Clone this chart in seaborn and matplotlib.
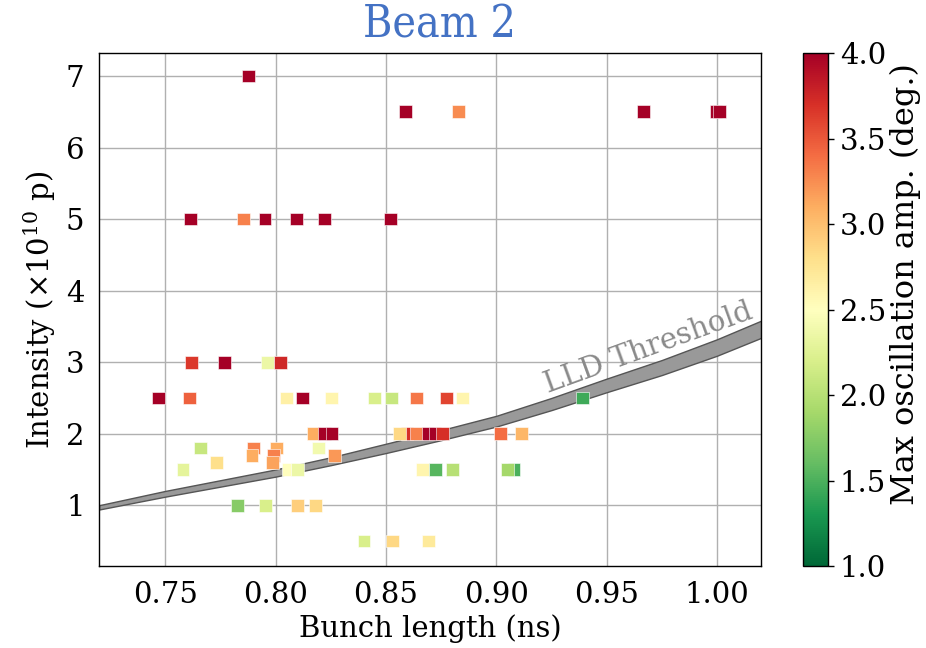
import numpy as np
import pandas as pd
import seaborn as sns
import matplotlib
matplotlib.use("Agg")
import matplotlib.pyplot as plt
from matplotlib.colors import Normalize
from matplotlib.cm import ScalarMappable

# ---- data ----
bunch_length = [0.7876, 0.859, 0.8829, 0.9665, 0.9995, 1.0012,
                0.7614, 0.7854, 0.7952, 0.8096, 0.8223, 0.8522,
                0.7617, 0.7767, 0.7964, 0.8021,
                0.747, 0.7611, 0.8051, 0.8123, 0.8253, 0.8447, 0.8524, 0.8637, 0.8775, 0.8847, 0.939,
                0.8173, 0.8222, 0.8255, 0.8595, 0.856, 0.8637, 0.869, 0.8722, 0.8757, 0.902, 0.9115,
                0.766, 0.790, 0.8004, 0.8196,
                0.7893, 0.7992, 0.8268,
                0.7732, 0.7986,
                0.758, 0.806, 0.810, 0.8664, 0.8724, 0.8802, 0.908, 0.905,
                0.7828, 0.7955, 0.810, 0.818,
                0.840, 0.8528, 0.8691]
intensity = [7.0, 6.5, 6.5, 6.5, 6.5, 6.5,
             5.0, 5.0, 5.0, 5.0, 5.0, 5.0,
             3.0, 3.0, 3.0, 3.0,
             2.5, 2.5, 2.5, 2.5, 2.5, 2.5, 2.5, 2.5, 2.5, 2.5, 2.5,
             2.0, 2.0, 2.0, 2.0, 2.0, 2.0, 2.0, 2.0, 2.0, 2.0, 2.0,
             1.8, 1.8, 1.8, 1.8,
             1.7, 1.7, 1.7,
             1.6, 1.6,
             1.5, 1.5, 1.5, 1.5, 1.5, 1.5, 1.5, 1.5,
             1.0, 1.0, 1.0, 1.0,
             0.5, 0.5, 0.5]
osc_amp = [4.0, 4.0, 3.25, 4.0, 4.0, 4.0,
           4.0, 3.3, 4.0, 4.0, 4.0, 4.0,
           3.65, 4.0, 2.35, 3.75,
           4.0, 3.45, 2.65, 4.0, 2.6, 2.2, 2.1, 3.35, 3.6, 2.6, 1.45,
           3.1, 4.0, 4.0, 3.7, 2.85, 3.3, 4.0, 4.0, 3.7, 3.4, 3.05,
           2.1, 3.3, 3.1, 2.4,
           3.1, 3.3, 3.2,
           2.8, 3.15,
           2.3, 2.5, 2.35, 2.6, 1.55, 2.0, 1.5, 1.9,
           1.75, 2.2, 2.9, 2.85,
           2.2, 2.85, 2.7]

# LLD threshold band (lower / upper edge read at several bunch lengths)
thr_x = [0.72, 0.75, 0.775, 0.80, 0.825, 0.85, 0.875, 0.90, 0.925, 0.95, 0.975, 1.00, 1.02]
thr_low = [0.94, 1.12, 1.26, 1.40, 1.56, 1.73, 1.91, 2.10, 2.33, 2.58, 2.82, 3.09, 3.34]
thr_high = [1.00, 1.20, 1.35, 1.50, 1.67, 1.86, 2.05, 2.25, 2.50, 2.77, 3.03, 3.32, 3.58]

x_ticks = [0.75, 0.80, 0.85, 0.90, 0.95, 1.00]
y_ticks = [1, 2, 3, 4, 5, 6, 7]
cbar_ticks = [1.0, 1.5, 2.0, 2.5, 3.0, 3.5, 4.0]

df = pd.DataFrame({"bl": bunch_length, "I": intensity, "amp": osc_amp})

sns.set_style("white")
plt.rcParams["font.family"] = ["DejaVu Serif"]
plt.rcParams["mathtext.fontset"] = "dejavuserif"
plt.rcParams["text.color"] = "black"
plt.rcParams["axes.labelcolor"] = "black"
plt.rcParams["xtick.color"] = "black"
plt.rcParams["ytick.color"] = "black"

fig = plt.figure(figsize=(9.26, 6.48), dpi=100)
ax = fig.add_axes([0.107, 0.1265, 0.715, 0.7915])
cax = fig.add_axes([0.867, 0.1265, 0.027, 0.7915])

ax.set_axisbelow(True)
ax.grid(True, color="#b0b0b0", linewidth=1.0)

ax.fill_between(thr_x, thr_low, thr_high, facecolor="#999999",
                edgecolor="#555555", linewidth=1.0, zorder=2)

norm = Normalize(vmin=1.0, vmax=4.0)
sns.scatterplot(data=df, x="bl", y="I", hue="amp", palette="RdYlGn_r",
                hue_norm=norm, marker="s", s=85, edgecolor="white",
                linewidth=0.4, legend=False, ax=ax, zorder=3)

ax.text(0.970, 3.09, "LLD Threshold", color="#8a8a8a", fontsize=21,
        rotation=20, ha="center", va="baseline", rotation_mode="anchor",
        zorder=4)

ax.set_xlim(0.72, 1.02)
ax.set_ylim(0.15, 7.32)
ax.set_xticks(x_ticks)
ax.set_xticklabels([f"{t:.2f}" for t in x_ticks], fontsize=21)
ax.set_yticks(y_ticks)
ax.set_yticklabels([str(t) for t in y_ticks], fontsize=21)
ax.tick_params(axis="both", direction="out", length=4.5, width=1, color="black", pad=6)
ax.set_xlabel("Bunch length (ns)", fontsize=21, labelpad=4)
ax.set_ylabel(r"Intensity ($\times$10$^{10}$ p)", fontsize=21, labelpad=6)
for sp in ax.spines.values():
    sp.set_color("black")
    sp.set_linewidth(1.0)

sm = ScalarMappable(norm=norm, cmap="RdYlGn_r")
cb = fig.colorbar(sm, cax=cax, ticks=cbar_ticks)
cb.ax.set_yticklabels([f"{t:.1f}" for t in cbar_ticks], fontsize=21)
cb.ax.tick_params(length=4.5, width=1, pad=4, color="black")
cb.set_label("Max oscillation amp. (deg.)", fontsize=23, labelpad=3)
cb.ax.yaxis.label.set_y(0.55)
cb.outline.set_linewidth(1.0)
cb.outline.set_edgecolor("black")

fig.text(0.475, 0.962, "Beam 2", color="#4472C4", fontsize=32,
         ha="center", va="center", fontstretch="condensed")

fig.savefig("out.png", dpi=100)
